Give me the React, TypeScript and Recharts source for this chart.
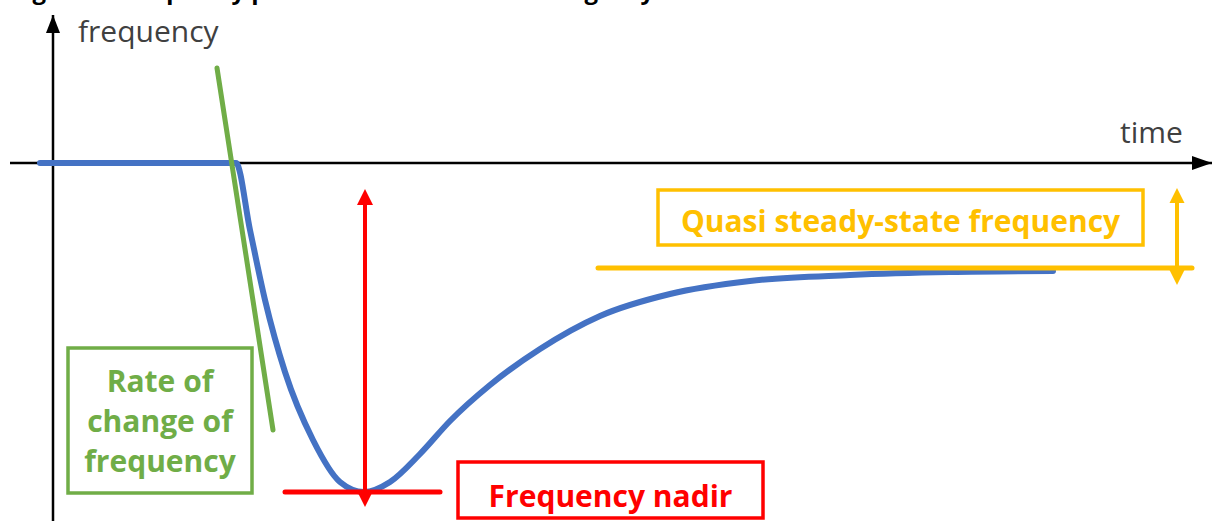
import React from 'react';
import { ComposedChart, Line, XAxis, YAxis, ReferenceLine, ReferenceArea, ReferenceDot } from 'recharts';

// Frequency response after a contingency (time in s, frequency in Hz)
const timeSec = [-1.2, 18.4, 19.8, 21.3, 23.3, 26.1, 28.8, 31.2, 33.8, 36.8, 39.8, 43.8, 48.8, 54.8, 61.8, 69.8, 79.8, 89.8, 100.1];
const freqHz = [50, 50, 49.8325, 49.6575, 49.4775, 49.3075, 49.2025, 49.1775, 49.2025, 49.2725, 49.355, 49.445, 49.535, 49.6175, 49.6725, 49.705, 49.72, 49.7275, 49.73];

const nominalHz = 50;
const nadirHz = 49.1775;
const nadirTime = 31.3;
const steadyHz = 49.7375;

const xDomain: [number, number] = [-5.2, 116];
const yDomain: [number, number] = [49.105, 50.4075];

const axisXTime = [-4.2, 116];
const axisYFreq = [49.105, 50.37];

const rocofTime = [16.5, 22.1];
const rocofFreq = [50.2375, 49.3325];

const labels = {
  yAxis: 'frequency',
  xAxis: 'time',
  rocof: ['Rate of', 'change of', 'frequency'],
  nadir: 'Frequency nadir',
  steady: 'Quasi steady-state frequency',
  title: 'Figure 1: Frequency profile after a severe contingency',
};

const curveData = timeSec.map((t, i) => ({ t, f: freqHz[i] }));
const xAxisData = axisXTime.map((t) => ({ t, f: nominalHz }));
const yAxisData = axisYFreq.map((f) => ({ t: 0.1, f }));

const FONT = '"Open Sans", "Noto Sans", sans-serif';
const BLUE = '#4472C4';
const GREEN = '#70AD47';
const RED = '#FF0000';
const YELLOW = '#FFC000';

const arrowLine = (color: string, sw: number, head: number, half: number, startHead: boolean, endHead: boolean, cap = 'butt') => (p: any) => {
  const { x1, y1, x2, y2 } = p;
  const dx = x2 - x1;
  const dy = y2 - y1;
  const L = Math.hypot(dx, dy) || 1;
  const ux = dx / L;
  const uy = dy / L;
  const px = -uy;
  const py = ux;
  const sx = startHead ? x1 + ux * head * 0.8 : x1;
  const sy = startHead ? y1 + uy * head * 0.8 : y1;
  const ex = endHead ? x2 - ux * head * 0.8 : x2;
  const ey = endHead ? y2 - uy * head * 0.8 : y2;
  const headAt = (tx: number, ty: number, dxu: number, dyu: number) => {
    const bx = tx - dxu * head;
    const by = ty - dyu * head;
    return `${tx},${ty} ${bx + px * half},${by + py * half} ${bx - px * half},${by - py * half}`;
  };
  return (
    <g>
      <line x1={sx} y1={sy} x2={ex} y2={ey} stroke={color} strokeWidth={sw} strokeLinecap={cap as any} />
      {startHead && <polygon points={headAt(x1, y1, -ux, -uy)} fill={color} />}
      {endHead && <polygon points={headAt(x2, y2, ux, uy)} fill={color} />}
    </g>
  );
};

const boxShape = (color: string, lines: string[], firstBaseline: number, lineGap: number) => (p: any) => {
  const { x, y, width, height } = p;
  return (
    <g>
      <rect x={x} y={y} width={width} height={height} fill="none" stroke={color} strokeWidth={3.5} />
      {lines.map((s, i) => (
        <text key={i} x={x + width / 2} y={y + firstBaseline + i * lineGap} textAnchor="middle" fill={color}
          style={{ fontFamily: FONT, fontWeight: 700, fontSize: 30 }}>{s}</text>
      ))}
    </g>
  );
};

const textShape = (s: string) => (p: any) => (
  <text x={p.cx} y={p.cy} fill="#404040" style={{ fontFamily: FONT, fontSize: 30 }}>{s}</text>
);

const rightHead = (p: any) => (
  <polygon points={`${p.cx},${p.cy} ${p.cx - 20},${p.cy - 7} ${p.cx - 20},${p.cy + 7}`} fill="#000" />
);
const upHead = (p: any) => (
  <polygon points={`${p.cx},${p.cy} ${p.cx - 7},${p.cy + 18} ${p.cx + 7},${p.cy + 18}`} fill="#000" />
);

export default function App() {
  return (
    <div style={{ position: 'absolute', left: 0, top: 0, width: 1212, height: 521, overflow: 'hidden', background: '#fff' }}>
      <svg width={1212} height={521} style={{ position: 'absolute', left: 0, top: 0 }}>
        <text x={12} y={-1} fill="#000" style={{ fontFamily: FONT, fontWeight: 700, fontSize: 24 }}>{labels.title}</text>
      </svg>
      <div style={{ position: 'absolute', left: 0, top: 0 }}>
        <ComposedChart width={1212} height={521} margin={{ top: 0, right: 0, bottom: 0, left: 0 }}>
          <XAxis dataKey="t" type="number" domain={xDomain} allowDataOverflow hide />
          <YAxis type="number" domain={yDomain} allowDataOverflow hide />
          <Line data={xAxisData} dataKey="f" type="linear" stroke="#000" strokeWidth={2.5} dot={false} activeDot={false} isAnimationActive={false} />
          <Line data={yAxisData} dataKey="f" type="linear" stroke="#000" strokeWidth={2.5} dot={false} activeDot={false} isAnimationActive={false} />
          <Line data={curveData} dataKey="f" type="monotone" stroke={BLUE} strokeWidth={6} strokeLinecap="round" dot={false} activeDot={false} isAnimationActive={false} />
          <ReferenceDot ifOverflow="visible" x={axisXTime[1]} y={nominalHz} r={0} shape={rightHead} />
          <ReferenceDot ifOverflow="visible" x={0.1} y={axisYFreq[1]} r={0} shape={upHead} />
          <ReferenceLine ifOverflow="visible" segment={[{ x: rocofTime[0], y: rocofFreq[0] }, { x: rocofTime[1], y: rocofFreq[1] }]}
            shape={arrowLine(GREEN, 5, 0, 0, false, false, 'round')} />
          <ReferenceLine ifOverflow="visible" segment={[{ x: 23.3, y: nadirHz }, { x: 38.8, y: nadirHz }]}
            shape={arrowLine(RED, 5, 0, 0, false, false, 'round')} />
          <ReferenceLine ifOverflow="visible" segment={[{ x: nadirTime, y: 49.14 }, { x: nadirTime, y: 49.935 }]}
            shape={arrowLine(RED, 4, 16, 8, true, true)} />
          <ReferenceLine ifOverflow="visible" segment={[{ x: 54.6, y: steadyHz }, { x: 114, y: steadyHz }]}
            shape={arrowLine(YELLOW, 5, 0, 0, false, false, 'round')} />
          <ReferenceLine ifOverflow="visible" segment={[{ x: 112.5, y: 49.695 }, { x: 112.5, y: 49.9375 }]}
            shape={arrowLine(YELLOW, 4, 15, 7.5, true, true)} />
          <ReferenceArea ifOverflow="visible" x1={1.6} x2={20} y1={49.175} y2={49.5375}
            shape={boxShape(GREEN, labels.rocof, 44, 40)} />
          <ReferenceArea ifOverflow="visible" x1={40.6} x2={71.1} y1={49.1125} y2={49.2525}
            shape={boxShape(RED, [labels.nadir], 45, 0)} />
          <ReferenceArea ifOverflow="visible" x1={60.6} x2={109.1} y1={49.795} y2={49.9325}
            shape={boxShape(YELLOW, [labels.steady], 42, 0)} />
          <ReferenceDot ifOverflow="visible" x={2.6} y={50.3025} r={0} shape={textShape(labels.yAxis)} />
          <ReferenceDot ifOverflow="visible" x={106.8} y={50.05} r={0} shape={textShape(labels.xAxis)} />
        </ComposedChart>
      </div>
    </div>
  );
}
